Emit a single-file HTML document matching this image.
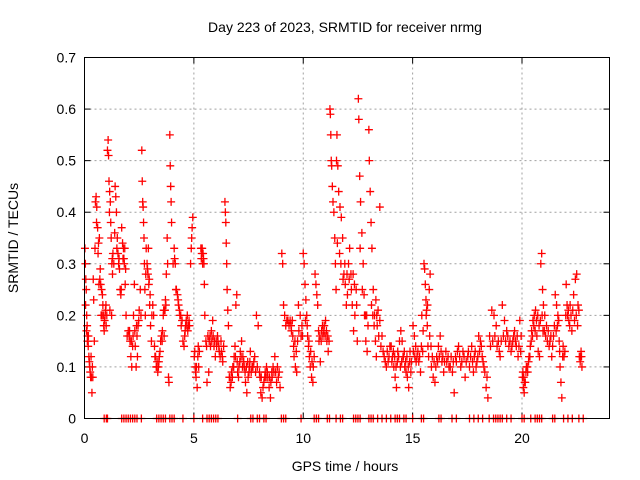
<!DOCTYPE html>
<html><head><meta charset="utf-8"><style>
body{margin:0;background:#fff}
svg{display:block;font-family:"Liberation Sans",sans-serif}
</style></head><body>
<svg id="chart" width="640" height="480" viewBox="0 0 640 480">
<rect x="0" y="0" width="640" height="480" fill="#fff"/>
<text x="345" y="32" font-size="14" text-anchor="middle">Day 223 of 2023, SRMTID for receiver nrmg</text>
<text x="345" y="471" font-size="14" text-anchor="middle">GPS time / hours</text>
<text x="18" y="238" font-size="14" text-anchor="middle" transform="rotate(-90 18 238)">SRMTID / TECUs</text>
<g id="grid"></g>
<g id="axes"></g>
<g id="marks"></g>
<rect x="84.5" y="57.5" width="525" height="361" fill="none" stroke="#000" stroke-width="1"/>
</svg>
<script>
const xTicks = [0,5,10,15,20];
const yTicks = [0,0.1,0.2,0.3,0.4,0.5,0.6,0.7];
const yTickLabels = ["0","0.1","0.2","0.3","0.4","0.5","0.6","0.7"];
const obs = [
[0.02,0.33],[0.04,0.3],[0.06,0.27],[0.08,0.25],[0.1,0.2],[0.12,0.18],[0.14,0.16],[0.16,0.15],[0.18,0.16],[0.2,0.12],[0.24,0.1],[0.28,0.08],[0.3,0.12],[0.34,0.05],[0.38,0.08],[0.4,0.27],[0.42,0.23],
[0.5,0.42],[0.53,0.43],[0.56,0.41],[0.6,0.37],[0.64,0.34],[0.68,0.35],[0.7,0.27],[0.66,0.26],
[0.74,0.26],[0.78,0.25],[0.8,0.2],[0.84,0.22],[0.88,0.18],[0.92,0.19],[0.96,0.21],[0.99,0.18],[0.82,0.24],[0.9,0.17],
[1.05,0.52],[1.08,0.54],[1.1,0.51],[1.12,0.46],[1.15,0.44],[1.18,0.42],[1.2,0.38],[1.22,0.35],[1.25,0.3],[1.28,0.28],[1.3,0.32],[1.16,0.21],[1.24,0.2],
[1.4,0.45],[1.43,0.43],[1.46,0.4],[1.5,0.35],[1.53,0.32],[1.56,0.3],[1.6,0.29],[1.63,0.25],[1.66,0.24],
[1.7,0.37],[1.74,0.34],[1.78,0.33],[1.82,0.3],[1.86,0.26],[1.9,0.2],[1.8,0.31],
[2.0,0.17],[2.04,0.16],[2.08,0.15],[2.12,0.12],[2.16,0.1],[2.2,0.14],[2.24,0.2],[2.28,0.26],
[2.32,0.14],[2.36,0.1],[2.4,0.16],[2.45,0.18],[2.5,0.21],[2.55,0.25],[2.42,0.12],
[2.62,0.52],[2.64,0.46],[2.66,0.42],[2.68,0.41],[2.7,0.38],[2.72,0.35],[2.74,0.3],[2.76,0.25],[2.78,0.2],
[2.82,0.33],[2.86,0.3],[2.9,0.28],[2.94,0.26],[2.98,0.22],[3.02,0.18],[3.06,0.15],[2.92,0.33],
[3.12,0.22],[3.16,0.2],[3.2,0.14],[3.25,0.12],[3.3,0.1],[3.35,0.09],[3.4,0.11],[3.45,0.13],[3.48,0.15],[3.28,0.1],
[3.52,0.16],[3.56,0.17],[3.6,0.2],[3.65,0.21],[3.7,0.23],[3.74,0.28],[3.78,0.35],[3.62,0.21],
[3.9,0.55],[3.92,0.49],[3.94,0.45],[3.96,0.42],[3.84,0.08],[3.86,0.07],[3.98,0.38],
[4.1,0.33],[4.15,0.3],[4.2,0.25],[4.25,0.24],[4.3,0.22],[4.36,0.2],[4.42,0.18],[4.12,0.31],
[4.5,0.15],[4.55,0.14],[4.6,0.17],[4.65,0.19],[4.7,0.2],[4.75,0.18],[4.85,0.3],[4.9,0.35],[4.95,0.39],[4.8,0.18],
[5.02,0.12],[5.06,0.1],[5.1,0.08],[5.15,0.06],[5.2,0.14],[5.25,0.13],
[5.32,0.33],[5.36,0.32],[5.4,0.3],[5.44,0.31],[5.48,0.26],[5.5,0.2],
[5.55,0.15],[5.6,0.07],[5.68,0.09],[5.74,0.16],[5.8,0.17],[5.86,0.19],[5.92,0.14],[5.98,0.12],
[6.02,0.15],[6.08,0.16],[6.14,0.14],[6.2,0.12],[6.26,0.13],[6.32,0.11],
[6.42,0.42],[6.44,0.4],[6.46,0.38],[6.48,0.34],[6.5,0.3],[6.52,0.25],[6.55,0.21],[6.58,0.18],
[6.62,0.08],[6.66,0.06],[6.72,0.09],[6.78,0.1],[6.84,0.12],[6.88,0.14],[6.92,0.22],[6.96,0.24],
[7.0,0.09],[7.06,0.1],[7.12,0.13],[7.18,0.15],[7.24,0.12],[7.3,0.1],[7.36,0.07],[7.42,0.05],[7.48,0.08],[7.54,0.1],[7.58,0.13],
[7.62,0.09],[7.7,0.1],[7.78,0.12],[7.86,0.2],[7.94,0.18],[8.0,0.09],[8.06,0.05],[8.12,0.04],[8.2,0.07],[8.26,0.09],[8.32,0.1],[8.38,0.08],
[8.44,0.06],[8.5,0.04],[8.56,0.09],[8.62,0.1],[8.7,0.12],[8.78,0.07],[8.86,0.08],[8.94,0.06],
[9.02,0.32],[9.06,0.3],[9.1,0.22],[9.15,0.2],[9.2,0.18],[9.25,0.19],
[9.4,0.19],[9.46,0.17],[9.52,0.16],[9.58,0.12],[9.64,0.1],[9.7,0.09],[9.78,0.22],[9.86,0.2],[9.94,0.18],
[10.0,0.32],[10.04,0.3],[10.08,0.26],[10.12,0.23],[10.16,0.2],[10.2,0.16],[10.24,0.14],[10.28,0.12],
[10.32,0.1],[10.38,0.08],[10.44,0.07],[10.5,0.12],[10.54,0.28],[10.58,0.26],[10.62,0.24],[10.66,0.22],
[10.72,0.15],[10.78,0.11],[10.84,0.17],[10.9,0.16],[10.96,0.18],[11.02,0.19],[11.08,0.15],[11.14,0.13],
[11.22,0.6],[11.24,0.59],[11.26,0.55],[11.28,0.5],[11.3,0.49],[11.33,0.45],[11.36,0.42],[11.4,0.4],[11.44,0.35],[11.47,0.3],[11.5,0.25],
[11.52,0.5],[11.54,0.55],[11.58,0.49],[11.62,0.44],[11.68,0.41],[11.74,0.39],[11.8,0.35],[11.86,0.28],[11.92,0.26],[11.97,0.22],
[12.02,0.24],[12.07,0.3],[12.12,0.33],[12.18,0.28],[12.24,0.22],[12.3,0.17],[12.36,0.2],[12.42,0.25],[12.47,0.15],
[12.52,0.62],[12.54,0.58],[12.58,0.47],[12.62,0.42],[12.68,0.36],[12.74,0.3],[12.8,0.2],[12.86,0.15],[12.92,0.13],
[13.0,0.56],[13.02,0.5],[13.06,0.44],[13.1,0.38],[13.14,0.33],[13.2,0.25],[13.26,0.2],[13.3,0.15],[13.34,0.12],[13.38,0.18],[13.5,0.41],
[13.32,0.23],[13.42,0.21],[13.5,0.19],[13.6,0.16],[13.7,0.12],[13.8,0.1],[13.88,0.11],[13.96,0.14],
[14.02,0.14],[14.08,0.12],[14.14,0.1],[14.2,0.08],[14.26,0.06],[14.32,0.13],[14.4,0.15],[14.46,0.17],
[14.52,0.15],[14.58,0.12],[14.64,0.1],[14.7,0.09],[14.76,0.08],[14.82,0.06],[14.88,0.13],[14.94,0.11],
[15.02,0.18],[15.08,0.16],[15.14,0.14],[15.2,0.12],[15.28,0.11],[15.36,0.09],[15.42,0.2],[15.48,0.17],
[15.52,0.3],[15.55,0.29],[15.58,0.26],[15.61,0.23],[15.64,0.21],[15.67,0.18],[15.7,0.14],[15.73,0.12],[15.76,0.25],[15.8,0.28],
[15.86,0.1],[15.94,0.08],[16.02,0.07],[16.1,0.12],[16.18,0.14],[16.26,0.16],[16.34,0.11],[16.42,0.09],
[16.52,0.13],[16.62,0.12],[16.72,0.1],[16.82,0.09],[16.9,0.05],[17.0,0.11],[17.1,0.14],[17.2,0.1],[17.3,0.13],[17.4,0.08],
[17.52,0.12],[17.6,0.1],[17.7,0.14],[17.78,0.09],[17.86,0.13],[17.94,0.11],[18.02,0.16],[18.1,0.15],[18.18,0.12],[18.26,0.1],[18.36,0.06],[18.44,0.04],
[18.52,0.16],[18.62,0.21],[18.72,0.2],[18.82,0.18],[18.92,0.15],[19.0,0.12],[19.1,0.22],[19.2,0.19],[19.3,0.17],[19.4,0.14],
[19.5,0.13],[19.58,0.15],[19.66,0.17],[19.74,0.14],[19.82,0.12],[19.9,0.19],[19.96,0.16],
[20.02,0.08],[20.06,0.06],[20.1,0.05],[20.15,0.07],[20.2,0.1],[20.26,0.09],[20.32,0.12],[20.38,0.14],
[20.44,0.17],[20.5,0.19],[20.56,0.2],[20.62,0.21],[20.68,0.16],[20.74,0.13],[20.8,0.12],[20.86,0.3],[20.9,0.32],[20.94,0.25],[20.98,0.22],
[21.04,0.2],[21.12,0.18],[21.2,0.17],[21.28,0.15],[21.36,0.12],[21.44,0.16],
[21.52,0.24],[21.58,0.22],[21.64,0.2],[21.7,0.15],[21.74,0.1],[21.78,0.07],[21.82,0.04],[21.88,0.14],[21.96,0.13],
[22.02,0.26],[22.08,0.2],[22.14,0.19],[22.2,0.22],[22.28,0.17],[22.36,0.24],[22.44,0.27],
[22.5,0.28],[22.56,0.22],[22.62,0.12],[22.66,0.11],[22.7,0.13],[22.74,0.1]
];
const obsDense = [
[0.05,0.22],[0.09,0.17],[0.13,0.15],[0.17,0.14],[0.22,0.11],[0.26,0.09],[0.32,0.08],[0.36,0.1],[0.45,0.15],[0.48,0.33],[0.55,0.38],[0.62,0.32],[0.72,0.29],[0.76,0.2],[0.86,0.2],[0.94,0.2],[0.98,0.22],
[1.02,0.2],[1.14,0.4],[1.27,0.31],[1.34,0.3],[1.38,0.36],[1.48,0.33],[1.58,0.31],[1.68,0.25],[1.76,0.31],[1.84,0.33],[1.88,0.29],[1.95,0.16],[2.06,0.17],[2.14,0.15],[2.22,0.16],[2.3,0.17],[2.38,0.18],[2.48,0.19],[2.58,0.2],[2.8,0.28],[2.88,0.29],[2.96,0.27],[3.0,0.24],[3.08,0.2],
[3.22,0.12],[3.32,0.11],[3.38,0.1],[3.42,0.12],[3.55,0.15],[3.64,0.16],[3.68,0.21],[3.72,0.22],[3.8,0.3],[4.05,0.3],[4.18,0.25],[4.28,0.23],[4.34,0.21],[4.4,0.2],[4.46,0.19],[4.58,0.16],[4.62,0.18],[4.68,0.18],[4.72,0.17],[4.78,0.19],[4.88,0.33],[4.92,0.37],
[5.04,0.13],[5.08,0.09],[5.12,0.1],[5.18,0.12],[5.22,0.1],[5.34,0.31],[5.38,0.33],[5.42,0.32],[5.46,0.3],[5.58,0.14],[5.64,0.16],[5.7,0.15],[5.76,0.14],[5.82,0.15],[5.88,0.16],[5.94,0.15],[6.04,0.14],[6.1,0.15],[6.16,0.13],[6.24,0.15],[6.3,0.12],[6.36,0.14],
[6.64,0.08],[6.7,0.07],[6.76,0.08],[6.82,0.1],[6.9,0.12],[6.98,0.11],[7.04,0.08],[7.1,0.11],[7.16,0.12],[7.22,0.1],[7.28,0.11],[7.34,0.09],[7.4,0.1],[7.46,0.11],[7.52,0.09],[7.56,0.11],[7.66,0.1],[7.74,0.11],[7.82,0.09],[7.9,0.1],[8.02,0.08],[8.08,0.08],[8.16,0.06],[8.24,0.08],[8.3,0.08],[8.36,0.09],[8.46,0.08],[8.52,0.07],[8.58,0.08],[8.66,0.09],[8.74,0.09],[8.82,0.1],[8.9,0.09],
[9.3,0.19],[9.35,0.18],[9.44,0.18],[9.5,0.19],[9.56,0.14],[9.62,0.15],[9.68,0.13],[9.74,0.15],[9.8,0.17],[9.9,0.16],[9.96,0.16],[10.1,0.19],[10.18,0.18],[10.26,0.15],[10.34,0.13],[10.4,0.11],[10.46,0.1],[10.7,0.17],[10.76,0.16],[10.82,0.15],[10.88,0.18],[10.94,0.17],[11.0,0.16],[11.06,0.17],[11.12,0.16],[11.18,0.15],
[11.56,0.34],[11.66,0.32],[11.72,0.3],[11.82,0.27],[11.9,0.3],[12.0,0.28],[12.1,0.27],[12.2,0.25],[12.28,0.28],[12.34,0.26],[12.44,0.22],[12.6,0.33],[12.7,0.25],[12.78,0.24],[12.84,0.2],[12.9,0.2],[12.96,0.18],[13.12,0.22],[13.18,0.2],[13.24,0.18],[13.36,0.2],
[13.45,0.16],[13.55,0.14],[13.65,0.13],[13.75,0.11],[13.84,0.13],[13.92,0.12],[14.05,0.11],[14.12,0.13],[14.18,0.12],[14.24,0.1],[14.3,0.11],[14.36,0.12],[14.44,0.1],[14.5,0.11],[14.56,0.12],[14.62,0.13],[14.68,0.11],[14.74,0.12],[14.8,0.1],[14.86,0.11],[14.92,0.09],
[15.04,0.13],[15.1,0.12],[15.16,0.11],[15.24,0.13],[15.32,0.12],[15.4,0.14],[15.46,0.13],[15.62,0.2],[15.68,0.22],[15.78,0.16],[15.84,0.14],[15.9,0.12],[15.98,0.11],[16.06,0.1],[16.14,0.11],[16.22,0.12],[16.3,0.13],[16.38,0.12],[16.46,0.11],
[16.56,0.11],[16.66,0.1],[16.76,0.12],[16.86,0.11],[16.96,0.12],[17.05,0.13],[17.15,0.12],[17.25,0.11],[17.35,0.12],[17.45,0.11],[17.55,0.13],[17.65,0.12],[17.74,0.11],[17.82,0.12],[17.9,0.1],[17.98,0.12],[18.06,0.13],[18.14,0.14],[18.22,0.11],[18.3,0.09],[18.4,0.08],
[18.56,0.14],[18.66,0.15],[18.76,0.16],[18.86,0.14],[18.96,0.13],[19.05,0.15],[19.15,0.16],[19.25,0.15],[19.35,0.16],[19.45,0.15],[19.54,0.14],[19.62,0.16],[19.7,0.15],[19.78,0.16],[19.86,0.14],[19.94,0.13],
[20.04,0.09],[20.08,0.08],[20.12,0.07],[20.18,0.09],[20.24,0.1],[20.3,0.11],[20.36,0.12],[20.42,0.15],[20.48,0.16],[20.54,0.18],[20.6,0.17],[20.66,0.19],[20.72,0.2],[20.78,0.18],[20.84,0.19],[20.92,0.2],[20.96,0.17],
[21.02,0.17],[21.08,0.16],[21.16,0.15],[21.24,0.14],[21.32,0.16],[21.4,0.14],[21.48,0.18],[21.56,0.17],[21.62,0.18],[21.68,0.19],[21.72,0.13],[21.86,0.12],[21.92,0.12],[22.0,0.2],[22.06,0.22],[22.12,0.21],[22.18,0.18],[22.24,0.2],[22.32,0.21],[22.4,0.19],[22.48,0.2],[22.54,0.18],[22.6,0.21],[22.68,0.12],[22.72,0.12]
];
const hours = obs.map(p => p[0]).concat(obsDense.map(p => p[0]));
const srmtid = obs.map(p => p[1]).concat(obsDense.map(p => p[1]));
const zeroHours = [0.9,1.0,1.05,1.7,1.8,1.9,2.0,2.1,2.2,2.3,2.4,2.6,3.3,3.4,3.5,3.6,3.7,3.9,4.0,4.1,4.5,5.0,5.4,5.6,5.7,5.8,5.9,6.0,6.1,7.0,7.6,7.7,7.9,8.0,8.2,8.3,9.0,9.1,9.2,9.9,10.5,10.6,10.7,11.1,11.2,11.5,11.7,11.8,12.3,12.4,12.5,12.6,13.0,13.1,13.2,13.4,13.6,13.8,14.0,14.2,14.3,14.4,14.6,14.7,15.0,15.4,15.5,16.2,16.3,16.8,17.0,17.6,17.8,18.0,18.2,18.5,18.7,18.8,18.9,19.0,19.1,19.3,19.5,20.0,20.1,20.4,20.6,20.7,20.8,20.9,21.4,21.5,21.9,22.1,22.3,22.6,22.8];

const X0=84.5, X1=609.5, Y0=418.5, Y1=57.5;
function xs(h){return X0+(h/24)*(X1-X0);}
function ys(v){return Y0-(v/0.7)*(Y0-Y1);}
const NS='http://www.w3.org/2000/svg';
const grid=document.getElementById('grid'), axes=document.getElementById('axes'), marks=document.getElementById('marks');
function mk(tag, attrs, parent){const e=document.createElementNS(NS,tag);for(const k in attrs)e.setAttribute(k,attrs[k]);parent.appendChild(e);return e;}
xTicks.forEach(t=>{
  const x=xs(t);
  if(t>0){const g=mk('line',{x1:x,x2:x,y1:Y1,y2:Y0,stroke:'#a0a0a0','stroke-dasharray':'2,3'},grid);
  
  }
  mk('line',{x1:x,x2:x,y1:Y0,y2:Y0-6,stroke:'#000'},axes);
  mk('line',{x1:x,x2:x,y1:Y1,y2:Y1+6,stroke:'#000'},axes);
  const l=mk('text',{x:x,y:443,'font-size':14,'text-anchor':'middle'},axes);
  l.textContent=String(t);
  
  
});
yTicks.forEach((t,i)=>{
  const y=ys(t);
  if(i>0&&i<yTicks.length-1){const g=mk('line',{x1:X0,x2:X1,y1:y,y2:y,stroke:'#a0a0a0','stroke-dasharray':'2,3'},grid);
  
  }
  mk('line',{x1:X0,x2:X0+6,y1:y,y2:y,stroke:'#000'},axes);
  mk('line',{x1:X1,x2:X1-6,y1:y,y2:y,stroke:'#000'},axes);
  const l=mk('text',{x:76,y:y+5,'font-size':14,'text-anchor':'end'},axes);
  l.textContent=yTickLabels[i];
  
  
});
function plus(h,v){
  const x=xs(h), y=ys(v);
  const p=mk('path',{d:`M${x-4},${y}h8M${x},${y-4}v8`,stroke:'#f00','stroke-width':1.3,fill:'none'},marks);
  
  
}
hours.forEach((h,i)=>plus(h,srmtid[i]));
zeroHours.forEach(h=>plus(h,0));
</script>
</body></html>
